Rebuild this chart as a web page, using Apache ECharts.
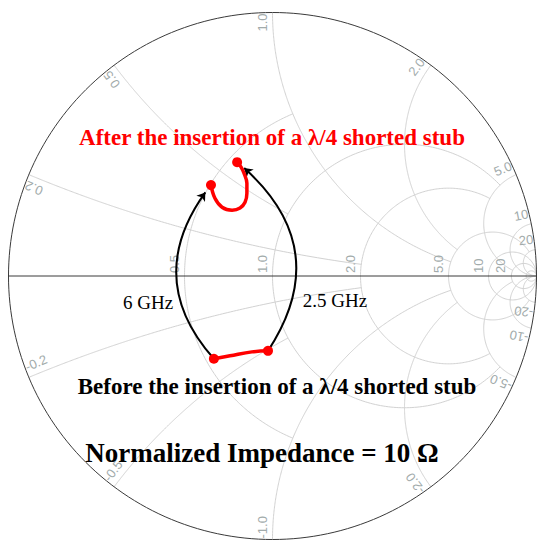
<!DOCTYPE html>
<html>
<head>
<meta charset="utf-8">
<script src="https://cdn.jsdelivr.net/npm/echarts@6/dist/echarts.min.js"></script>
<style>
html, body { margin: 0; padding: 0; background: #fff; }
#chart { width: 546px; height: 550px; }
</style>
</head>
<body>
<div id="chart"></div>
<script>
// smith chart grid: value of each circle and the value where it stops
const resistanceCircles = [0.5, 1, 2, 5, 10, 20, 50];
const resistanceLimits = [1, 5, 5, 20, Infinity, Infinity, Infinity];
const resistanceLabels = ['0.5', '1.0', '2.0', '5.0', '10', '20'];
const reactanceArcs = [0.2, 0.5, 1, 2, 5, 10, 20];
const reactanceLimits = [2, 1, 5, 5, 20, Infinity, Infinity];
const reactanceLabels = ['0.2', '0.5', '1.0', '2.0', '5.0', '10', '20'];

// reflection coefficient (re / im)
// after the stub: from 6 GHz (first) to 2.5 GHz (last)
const afterRe = [-0.233, -0.218, -0.191, -0.153, -0.123, -0.104, -0.097, -0.097, -0.108, -0.119, -0.134];
const afterIm = [0.345, 0.295, 0.261, 0.250, 0.258, 0.280, 0.314, 0.352, 0.390, 0.413, 0.432];
// before the stub
const beforeRe = [-0.222, -0.161, -0.078, -0.017];
const beforeIm = [-0.314, -0.303, -0.288, -0.284];

const gridColor = '#d2d2d2';
const labelColor = '#a2abab';

// z = r + jx  ->  gamma
function gamma(r, x) {
    const d = (r + 1) * (r + 1) + x * x;
    return [(r * r + x * x - 1) / d, 2 * x / d];
}

function resistancePath(r, lim) {
    const pts = [];
    const phiMax = 2 * Math.atan(lim / (r + 1));
    const n = 240;
    for (let i = 0; i <= n; i++) {
        const phi = -phiMax + 2 * phiMax * i / n;
        pts.push(gamma(r, (r + 1) * Math.tan(phi / 2)));
    }
    return pts;
}

function reactancePath(x, lim) {
    const pts = [];
    const uMax = 2 * Math.atan(lim / Math.abs(x));
    const n = 240;
    for (let i = 0; i <= n; i++) {
        const u = uMax * i / n;
        pts.push(gamma(Math.abs(x) * Math.tan(u / 2), x));
    }
    return pts;
}

function lineSeries(data, color, width) {
    return {
        type: 'line',
        data: data,
        showSymbol: false,
        symbol: 'none',
        silent: true,
        clip: false,
        z: 1,
        lineStyle: { color: color, width: width || 1 }
    };
}

const series = [];
resistanceCircles.forEach((r, i) => {
    series.push(lineSeries(resistancePath(r, resistanceLimits[i]), gridColor));
});
reactanceArcs.forEach((x, i) => {
    series.push(lineSeries(reactancePath(x, reactanceLimits[i]), gridColor));
    series.push(lineSeries(reactancePath(-x, reactanceLimits[i]), gridColor));
});
series.push(lineSeries(resistancePath(0, Infinity), '#3a3a3a', 1));
series.push(lineSeries([[-1, 0], [1, 0]], '#3a3a3a', 1));

// grid labels
const labelItems = [];
resistanceLabels.forEach((t, i) => {
    const g = gamma(resistanceCircles[i], 0);
    labelItems.push({ pos: g, rot: Math.PI / 2, align: 'left', dx: 3, text: t });
});
reactanceLabels.forEach((t, i) => {
    const up = gamma(0, reactanceArcs[i]);
    const th = Math.atan2(up[1], up[0]);
    labelItems.push({ pos: up, rot: th, align: 'right', dx: -1, text: t });
    const dn = gamma(0, -reactanceArcs[i]);
    labelItems.push({ pos: dn, rot: Math.atan2(dn[1], dn[0]) + Math.PI, align: 'left', dx: 1, text: '-' + t });
});

series.push({
    type: 'custom',
    silent: true,
    z: 2,
    data: labelItems.map(d => d.pos),
    renderItem: function (params, api) {
        const it = labelItems[params.dataIndex];
        const p = api.coord(it.pos);
        return {
            type: 'text',
            x: p[0],
            y: p[1],
            rotation: it.rot,
            style: {
                text: it.text,
                x: it.dx,
                y: -4,
                align: it.align,
                verticalAlign: 'bottom',
                fill: labelColor,
                font: '13px "Liberation Sans", Arial, sans-serif'
            }
        };
    }
});

// arrows from the "before" ends to the "after" ends
function arrowEnd(from, to, c, gap) {
    const cp = [(from[0] + to[0]) / 2 + (from[1] - to[1]) * c, (from[1] + to[1]) / 2 + (to[0] - from[0]) * c];
    const dx = to[0] - cp[0], dy = to[1] - cp[1];
    const len = Math.sqrt(dx * dx + dy * dy);
    return [to[0] - dx / len * gap, to[1] - dy / len * gap];
}
const nA = afterRe.length - 1, nB = beforeRe.length - 1;
const leftFrom = [beforeRe[0], beforeIm[0]];
const rightFrom = [beforeRe[nB], beforeIm[nB]];
const leftC = 0.4, rightC = -0.43;
series.push({
    type: 'lines',
    coordinateSystem: 'cartesian2d',
    silent: true,
    z: 3,
    symbol: ['none', 'arrow'],
    symbolSize: 8,
    lineStyle: { color: '#000', width: 2, opacity: 1 },
    data: [
        { coords: [leftFrom, arrowEnd(leftFrom, [afterRe[0], afterIm[0]], leftC, 0.035)], lineStyle: { curveness: leftC } },
        { coords: [rightFrom, arrowEnd(rightFrom, [afterRe[nA], afterIm[nA]], rightC, 0.035)], lineStyle: { curveness: rightC } }
    ]
});

function endDot(value, params, n) {
    return (params.dataIndex === 0 || params.dataIndex === n) ? 10 : 0;
}
series.push({
    name: 'After',
    type: 'line',
    z: 4,
    smooth: 0.4,
    clip: false,
    data: afterRe.map((v, i) => [v, afterIm[i]]),
    symbol: 'circle',
    symbolSize: (v, p) => endDot(v, p, nA),
    itemStyle: { color: '#ff0000' },
    lineStyle: { color: '#ff0000', width: 3.5 }
});
series.push({
    name: 'Before',
    type: 'line',
    z: 4,
    smooth: 0.4,
    clip: false,
    data: beforeRe.map((v, i) => [v, beforeIm[i]]),
    symbol: 'circle',
    symbolSize: (v, p) => endDot(v, p, nB),
    itemStyle: { color: '#ff0000' },
    lineStyle: { color: '#ff0000', width: 3.5 }
});

const myChart = echarts.init(document.getElementById('chart'), null, { renderer: 'svg' });
myChart.setOption({
    animation: false,
    backgroundColor: '#fff',
    grid: { left: 8.5, top: 12.5, width: 528, height: 527 },
    xAxis: { type: 'value', min: -1, max: 1, show: false },
    yAxis: { type: 'value', min: -1, max: 1, show: false },
    series: series,
    graphic: [
        {
            type: 'text', x: 272, y: 137, z: 10,
            style: { text: 'After the insertion of a λ/4 shorted stub', align: 'center', verticalAlign: 'middle', fill: '#ff0000', font: 'bold 23px "Liberation Serif", serif' }
        },
        {
            type: 'text', x: 277, y: 386, z: 10,
            style: { text: 'Before the insertion of a λ/4 shorted stub', align: 'center', verticalAlign: 'middle', fill: '#000', font: 'bold 23px "Liberation Serif", serif' }
        },
        {
            type: 'text', x: 148, y: 302, z: 10,
            style: { text: '6 GHz', align: 'center', verticalAlign: 'middle', fill: '#000', font: '19px "Liberation Serif", serif' }
        },
        {
            type: 'text', x: 335, y: 300, z: 10,
            style: { text: '2.5 GHz', align: 'center', verticalAlign: 'middle', fill: '#000', font: '19px "Liberation Serif", serif' }
        },
        {
            type: 'text', x: 262, y: 453, z: 10,
            style: { text: 'Normalized Impedance = 10 Ω', align: 'center', verticalAlign: 'middle', fill: '#000', font: 'bold 27px "Liberation Serif", serif' }
        }
    ]
});
</script>
</body>
</html>
